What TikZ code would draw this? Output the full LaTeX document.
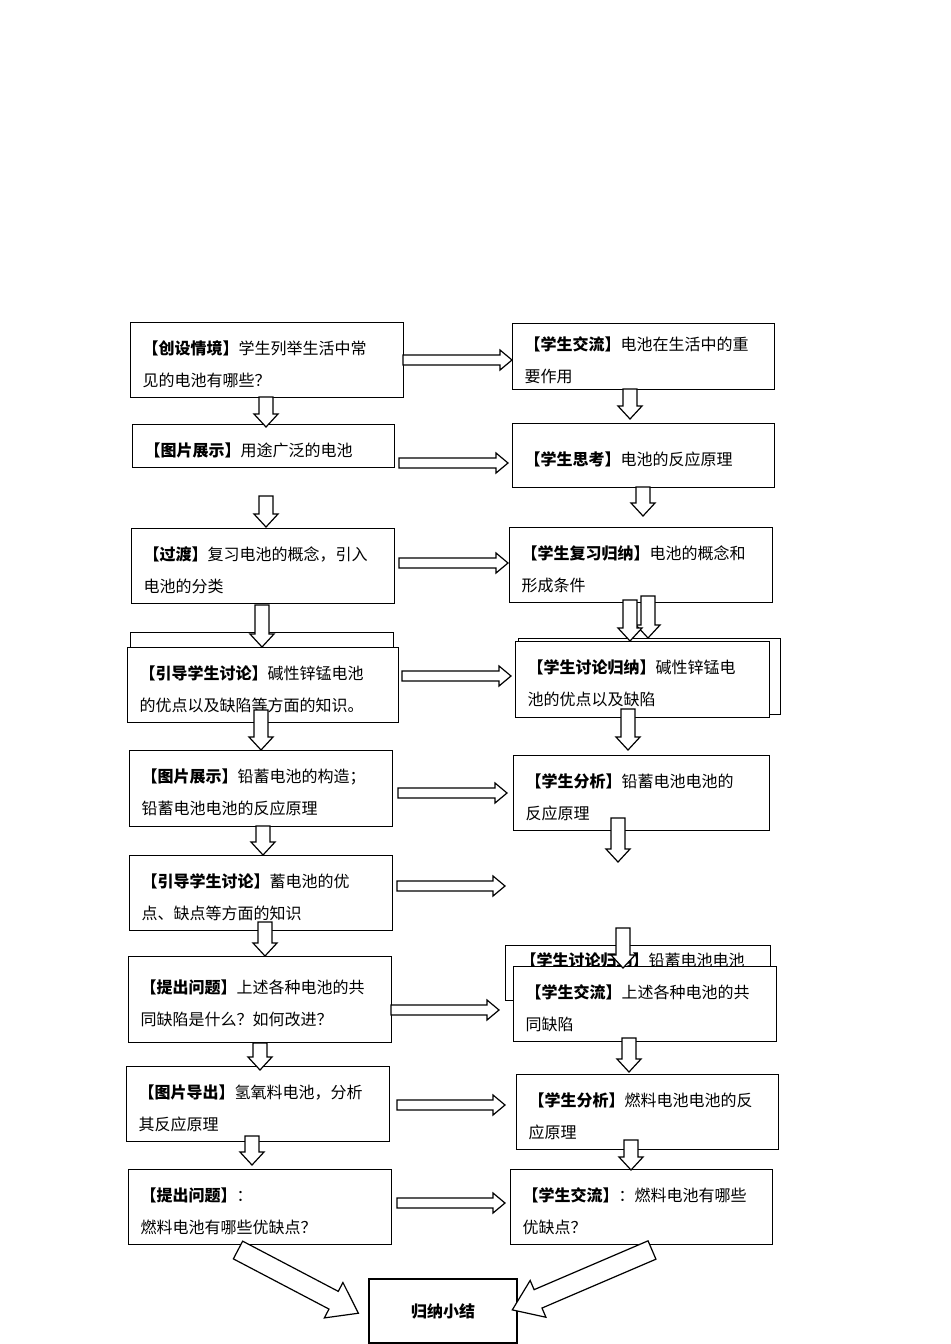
\documentclass[tikz,border=0pt]{standalone}
\usepackage{fontspec}
\setmainfont{Noto Sans CJK SC}
\begin{document}
\begin{tikzpicture}[x=0.5pt,y=-0.5pt,line width=0.6pt,
  boxst/.style={draw,fill=white,anchor=north west,inner sep=0},
  txt/.style={anchor=west,align=left,inner sep=0,font=\fontsize{8}{16}\selectfont},
  arr/.style={draw,fill=white,line width=0.6pt,line join=miter}]
\fill[white] (0,0) rectangle (950,1344);
\useasboundingbox (0,0) rectangle (950,1344);
\newcommand\bx[6]{%
  \pgfmathsetmacro\bw{(#4-#2)*0.5}\pgfmathsetmacro\bh{(#5-#3)*0.5}%
  \node[boxst,minimum width=\bw pt,minimum height=\bh pt] (#1) at (#2,#3) {};
  \node[txt] (#1t) at ([xshift=6pt,yshift=-2pt]#1.west) {#6};}
\newcommand\hb[1]{\textbf{【#1】}}
% arrow: start x,y, angle, length, shaft half, head half, head length
\newcommand\barrow[7]{%
  \begin{scope}[shift={(#1,#2)},rotate=#3]
  \draw[arr] (0,-#5)--({#4-#7},-#5)--({#4-#7},-#6)--(#4,0)--({#4-#7},#6)--({#4-#7},#5)--(0,#5)--cycle;
  \end{scope}}
\newcommand\rarr[3]{\barrow{#1}{#3}{0}{#2-#1}{5}{10}{12}}
\newcommand\darr[3]{\barrow{#1}{#2}{-90}{#3-#2}{7}{12}{13}}
% behind boxes
\bx{L4b}{130}{632}{393}{700}{}
\bx{R4b}{518}{638}{780}{714}{}
\bx{R6b}{505}{945}{770}{1000}{}
\node[txt] (R6bt) at (520,960) {\hb{学生讨论归纳}铅蓄电池电池};
% left boxes
\bx{L1}{130}{322}{403}{397}{\hb{创设情境}学生列举生活中常\\见的电池有哪些？}
\bx{L2}{132}{424}{394}{467}{\hb{图片展示}用途广泛的电池}
\bx{L3}{131}{528}{394}{603}{\hb{过渡}复习电池的概念，引入\\电池的分类}
\bx{L4}{127}{647}{398}{722}{\hb{引导学生讨论}碱性锌锰电池\\的优点以及缺陷等方面的知识。}
\bx{L5}{129}{750}{392}{826}{\hb{图片展示}铅蓄电池的构造；\\铅蓄电池电池的反应原理}
\bx{L6}{129}{855}{392}{930}{\hb{引导学生讨论}蓄电池的优\\点、缺点等方面的知识}
\bx{L7}{128}{956}{391}{1042}{\hb{提出问题}上述各种电池的共\\同缺陷是什么？如何改进？}
\bx{L8}{126}{1066}{389}{1141}{\hb{图片导出}氢氧料电池，分析\\其反应原理}
\bx{L9}{128}{1169}{391}{1244}{\hb{提出问题}：\\燃料电池有哪些优缺点？}
% right boxes
\bx{R1}{512}{323}{774}{389}{\hb{学生交流}电池在生活中的重\\要作用}
\bx{R2}{512}{423}{774}{487}{\hb{学生思考}电池的反应原理}
\bx{R3}{509}{527}{772}{602}{\hb{学生复习归纳}电池的概念和\\形成条件}
\bx{R4}{515}{641}{769}{717}{\hb{学生讨论归纳}碱性锌锰电\\池的优点以及缺陷}
\bx{R5}{513}{755}{769}{830}{\hb{学生分析}铅蓄电池电池的\\反应原理}
\bx{R6}{513}{966}{776}{1041}{\hb{学生交流}上述各种电池的共\\同缺陷}
\bx{R7}{516}{1074}{778}{1149}{\hb{学生分析}燃料电池电池的反\\应原理}
\bx{R8}{510}{1169}{772}{1244}{\hb{学生交流}：燃料电池有哪些\\优缺点？}
\node[draw,fill=white,minimum width=74pt,minimum height=32pt,inner sep=0,font=\fontsize{8}{10}\selectfont\bfseries] (S) at (443,1311) {归纳小结};
% right arrows
\rarr{403}{512}{360}
\rarr{399}{508}{463}
\rarr{399}{508}{563}
\rarr{402}{511}{676}
\rarr{398}{507}{793}
\rarr{397}{505}{886}
\rarr{391}{499}{1010}
\rarr{397}{505}{1105}
\rarr{397}{505}{1203}
% down arrows left
\darr{266}{397}{427}
\darr{266}{496}{527}
\darr{262}{605}{647}
\darr{261}{710}{750}
\darr{263}{826}{855}
\darr{265}{922}{956}
\darr{260}{1043}{1070}
\darr{252}{1136}{1165}
% down arrows right
\darr{630}{389}{419}
\darr{643}{487}{516}
\darr{648}{596}{638}
\darr{630}{600}{641}
\darr{628}{709}{750}
\darr{618}{818}{862}
\darr{623}{928}{968}
\darr{629}{1038}{1072}
\darr{631}{1140}{1170}
% diagonal arrows
\barrow{238}{1250}{-27.7}{136}{10}{20}{28}
\barrow{652}{1250}{-156.8}{152}{10}{20}{28}
\end{tikzpicture}
\end{document}
